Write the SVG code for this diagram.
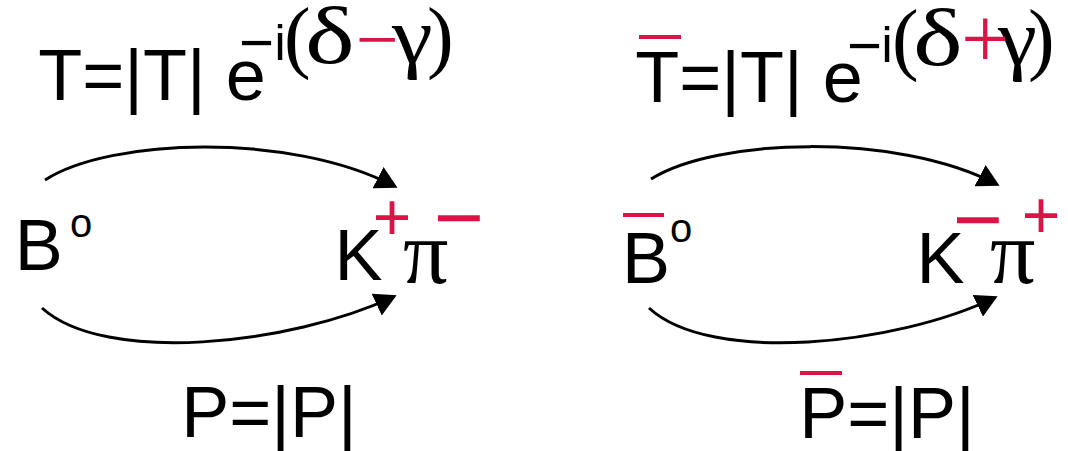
<svg xmlns="http://www.w3.org/2000/svg" width="1068" height="451" viewBox="0 0 1068 451">
<style>
.s{font-family:"Liberation Sans",Arial,sans-serif;fill:#000}
.r{font-family:"Liberation Serif","Times New Roman",serif;fill:#000}
.red{fill:#dc1446}
.bar{stroke:#dc1446;stroke-width:4}
.arc{fill:none;stroke:#000;stroke-width:3;marker-end:url(#ah)}
</style>
<defs>
<marker id="ah" viewBox="0 0 22 24" refX="18" refY="12" markerWidth="22" markerHeight="24" markerUnits="userSpaceOnUse" orient="auto">
<path d="M0,0 L22,12 L0,24 z" fill="#000"/>
</marker>
</defs>
<rect width="1068" height="451" fill="#fff"/>

<g id="connectors">
<path class="arc" d="M45,180 C110,138 290,132 394,186"/>
<path class="arc" d="M42,308 C105,365 290,345 393,297"/>
<path class="arc" d="M651,179 C716,138 896,132 996,184"/>
<path class="arc" d="M649,308 C711,365 896,345 994,298"/>
</g>

<g id="label-T">
<text class="s" font-size="72" x="38.3" y="100">T=|T| e</text>
<text class="s" font-size="60" x="239" y="63">−</text>
<text class="s" font-size="50" x="274.6" y="60">i</text>
<text class="r" font-size="80"><tspan x="284" y="63">(</tspan><tspan x="427" y="63">)</tspan></text>
<text class="r" font-size="80" transform="translate(305,63) scale(1.32,1)">δ</text>
<text class="r" font-size="80" transform="translate(392,63) scale(1.15,1)">γ</text>
<text class="r red" font-size="76" x="355.7" y="65">−</text>
</g>

<g id="label-Tbar">
<line class="bar" x1="639" y1="37" x2="681" y2="37"/>
<text class="s" font-size="72" x="635.3" y="102">T=|T| e</text>
<text class="s" font-size="60" x="847" y="66">−</text>
<text class="s" font-size="50" x="881.6" y="62">i</text>
<text class="r" font-size="80"><tspan x="892" y="65">(</tspan><tspan x="1028" y="65">)</tspan></text>
<text class="r" font-size="80" transform="translate(913,65) scale(1.32,1)">δ</text>
<text class="r" font-size="80" transform="translate(998,65) scale(1.1,1)">γ</text>
<text class="r red" font-size="86" x="961" y="68">+</text>
</g>

<g id="node-B0">
<text class="s" font-size="72" x="14.7" y="270">B</text>
<text class="s" font-size="40" x="70" y="237">o</text>
</g>

<g id="node-Kpi">
<text class="s" font-size="72" x="334.5" y="280">K</text>
<text class="s red" font-size="66" x="372.7" y="240">+</text>
<text class="r" font-size="90" x="403" y="283">π</text>
<text class="s red" font-size="86" x="433.7" y="247.4">−</text>
</g>

<g id="node-B0bar">
<line class="bar" x1="623" y1="215" x2="664" y2="215"/>
<text class="s" font-size="72" x="622" y="283">B</text>
<text class="s" font-size="40" x="670" y="242">o</text>
</g>

<g id="node-Kpibar">
<text class="s" font-size="72" x="916.5" y="283">K</text>
<text class="s red" font-size="86" x="952.7" y="249.4">−</text>
<text class="r" font-size="90" x="990" y="283">π</text>
<text class="s red" font-size="66" x="1021.7" y="238.3">+</text>
</g>

<g id="label-P">
<text class="s" font-size="72" x="181.3" y="437">P=|P|</text>
</g>

<g id="label-Pbar">
<line class="bar" x1="800" y1="373" x2="842" y2="373"/>
<text class="s" font-size="72" x="799.3" y="438">P=|P|</text>
</g>
</svg>
